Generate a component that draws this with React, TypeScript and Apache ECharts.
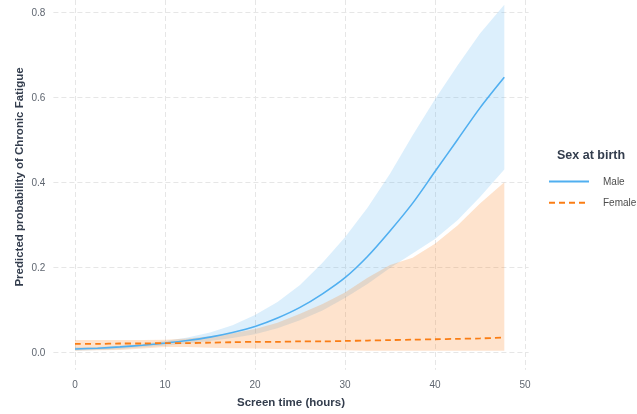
import React, { useEffect, useRef } from "react";
import * as echarts from "echarts";

const xs = [0, 2.5, 5, 7.5, 10, 12.5, 15, 17.5, 20, 22.5, 25, 27.5, 30, 32.5, 35, 37.5, 40, 42.5, 45, 47.7];
const maleFit = [0.007, 0.009, 0.012, 0.016, 0.021, 0.027, 0.035, 0.046, 0.06, 0.08, 0.105, 0.137, 0.175, 0.225, 0.285, 0.35, 0.425, 0.5, 0.575, 0.647];
const maleUpper = [0.011, 0.012, 0.015, 0.019, 0.026, 0.034, 0.046, 0.063, 0.087, 0.118, 0.158, 0.21, 0.27, 0.34, 0.42, 0.51, 0.595, 0.675, 0.75, 0.818];
const maleLower = [0.003, 0.005, 0.007, 0.011, 0.015, 0.02, 0.026, 0.033, 0.042, 0.056, 0.075, 0.098, 0.127, 0.16, 0.198, 0.232, 0.266, 0.31, 0.365, 0.43];
const femaleFit = [0.019, 0.019, 0.02, 0.02, 0.021, 0.021, 0.022, 0.023, 0.024, 0.024, 0.025, 0.025, 0.026, 0.027, 0.028, 0.029, 0.03, 0.031, 0.032, 0.034];
const femaleUpper = [0.028, 0.028, 0.028, 0.028, 0.029, 0.032, 0.037, 0.044, 0.054, 0.069, 0.09, 0.113, 0.14, 0.175, 0.205, 0.222, 0.255, 0.298, 0.35, 0.4];
const femaleLower = [0.003, 0.004, 0.005, 0.008, 0.012, 0.012, 0.01, 0.009, 0.008, 0.007, 0.006, 0.005, 0.004, 0.003, 0.003, 0.003, 0.003, 0.003, 0.003, 0.003];

const xTicks = [0, 10, 20, 30, 40, 50];
const yTicks = [0, 0.2, 0.4, 0.6, 0.8];

const seriesNames = ["Male", "Female"];
const lineColors = ["#50AFF0", "#FA7D14"];
const bandColors = ["rgba(80,175,240,0.2)", "rgba(250,125,20,0.21)"];

const FONT = "Liberation Sans, Arial, sans-serif";
const gridLine = { show: true, lineStyle: { color: "#E6E6E6", width: 1, type: [5, 3] as any } };

function bandSeries(name: string, lower: number[], upper: number[], color: string) {
  return {
    type: "custom",
    name,
    xAxisIndex: 0,
    yAxisIndex: 0,
    silent: true,
    clip: false,
    z: 1,
    data: [[0, 0]],
    renderItem: (_params: any, api: any) => {
      const pts: number[][] = [];
      for (let i = 0; i < xs.length; i++) pts.push(api.coord([xs[i], upper[i]]));
      for (let i = xs.length - 1; i >= 0; i--) pts.push(api.coord([xs[i], lower[i]]));
      return { type: "polygon", shape: { points: pts }, style: { fill: color } };
    },
  };
}

export default function App() {
  const ref = useRef<HTMLDivElement>(null);
  useEffect(() => {
    if (!ref.current) return;
    const chart = echarts.init(ref.current, undefined, { renderer: "svg" });
    const pxPerX = 9;
    const pxPerY = 424.6;
    const x0 = 75;
    const y0 = 352;
    const xMin = -2.4, xMax = 50.4, yMin = -0.042;
    const yMax = y0 / pxPerY;
    const panelLeft = x0 + xMin * pxPerX;
    const panelWidth = (xMax - xMin) * pxPerX;
    const panelHeight = (yMax - yMin) * pxPerY;
    const hidden = { axisLine: { show: false }, axisTick: { show: false }, axisLabel: { show: false }, splitLine: { show: false } };
    const titleStyle = { fontFamily: FONT, fontSize: 11.5, fontWeight: "bold", color: "#333D4D" };

    chart.setOption({
      animation: false,
      textStyle: { fontFamily: FONT },
      grid: [
        { left: panelLeft, top: 0, width: panelWidth, height: panelHeight },
        { left: panelLeft, top: y0 - 0.8 * pxPerY, width: panelWidth, height: 0.8 * pxPerY },
        { left: x0, top: 0, width: 50 * pxPerX, height: panelHeight },
        { left: panelLeft, top: 0, width: panelWidth, height: 354 },
      ],
      xAxis: [
        {
          gridIndex: 0, type: "value", min: xMin, max: xMax, ...hidden,
          name: "Screen time (hours)", nameLocation: "middle", nameGap: 26,
          nameTextStyle: titleStyle,
        },
        { gridIndex: 1, type: "value", min: 0, max: 1, show: false },
        {
          gridIndex: 2, type: "value", min: xTicks[0], max: xTicks[xTicks.length - 1], interval: 10,
          axisLine: { show: false }, axisTick: { show: false },
          axisLabel: { show: true, margin: 10, fontSize: 10, color: "#5F6670", fontFamily: FONT },
          splitLine: gridLine,
        },
        { gridIndex: 3, type: "value", min: 0, max: 1, show: false },
      ],
      yAxis: [
        { gridIndex: 0, type: "value", min: yMin, max: yMax, ...hidden },
        {
          gridIndex: 1, type: "value", min: yTicks[0], max: yTicks[yTicks.length - 1], interval: 0.2,
          axisLine: { show: false }, axisTick: { show: false },
          axisLabel: { show: true, margin: 8, fontSize: 10, color: "#5F6670", fontFamily: FONT, formatter: (v: number) => v.toFixed(1) },
          splitLine: gridLine,
        },
        { gridIndex: 2, type: "value", min: 0, max: 1, show: false },
        {
          gridIndex: 3, type: "value", min: 0, max: 1, ...hidden,
          name: "Predicted probability of Chronic Fatigue", nameLocation: "middle", nameGap: 28, nameRotate: 90,
          nameTextStyle: titleStyle,
        },
      ],
      legend: {
        data: seriesNames,
        orient: "vertical",
        left: 543,
        top: 171,
        itemWidth: 40,
        itemHeight: 14,
        itemGap: 10,
        itemStyle: { opacity: 0 },
        textStyle: { fontFamily: FONT, fontSize: 10, color: "#4D4D4D", padding: [0, 0, 0, 9] },
      },
      graphic: [
        {
          type: "text", left: 557, top: 148,
          style: { text: "Sex at birth", font: `bold 12.5px ${FONT}`, fill: "#333D4D" },
        },
      ],
      series: [
        bandSeries("Male band", maleLower, maleUpper, bandColors[0]),
        bandSeries("Female band", femaleLower, femaleUpper, bandColors[1]),
        {
          type: "line", name: seriesNames[0], xAxisIndex: 0, yAxisIndex: 0,
          data: xs.map((x, i) => [x, maleFit[i]]),
          symbol: "none", showSymbol: false, smooth: 0.3, clip: false, z: 3,
          itemStyle: { color: lineColors[0] },
          lineStyle: { color: lineColors[0], width: 1.6 },
        },
        {
          type: "line", name: seriesNames[1], xAxisIndex: 0, yAxisIndex: 0,
          data: xs.map((x, i) => [x, femaleFit[i]]),
          symbol: "none", showSymbol: false, smooth: 0.3, clip: false, z: 3,
          itemStyle: { color: lineColors[1] },
          lineStyle: { color: lineColors[1], width: 1.8, type: [6, 4] },
        },
      ],
    });
    return () => chart.dispose();
  }, []);
  return <div ref={ref} style={{ position: "fixed", left: 0, top: 0, width: 637, height: 414 }} />;
}
